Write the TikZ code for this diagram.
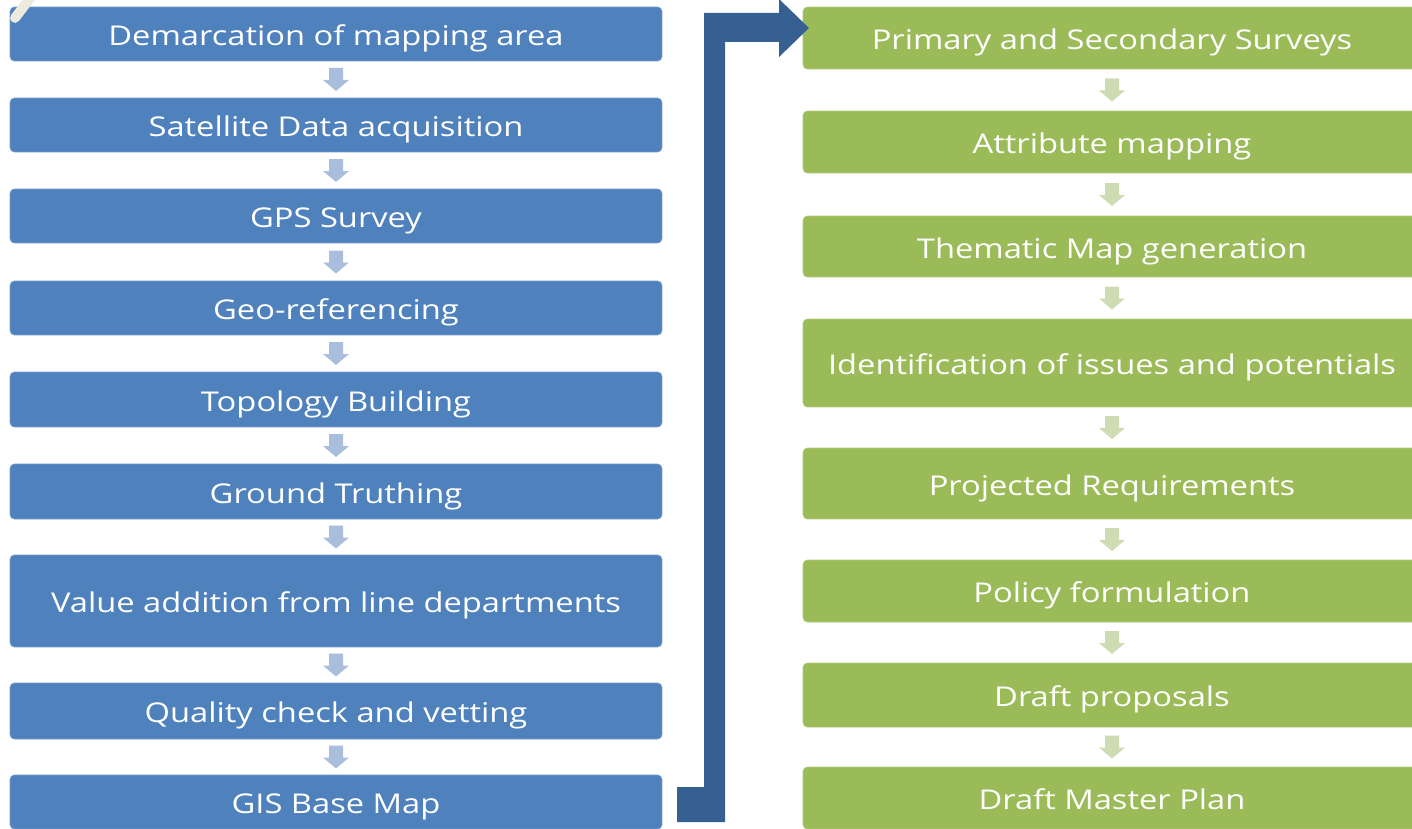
\documentclass[tikz,border=0pt]{standalone}
\usepackage{fontspec}
\setmainfont{Open Sans}[FakeStretch=1.2]
\usetikzlibrary{calc}
\definecolor{boxblue}{HTML}{4F81BD}
\definecolor{boxgreen}{HTML}{9BBB59}
\definecolor{arrblue}{HTML}{A9BEDC}
\definecolor{arrgreen}{HTML}{CDDCB2}
\definecolor{bigarr}{HTML}{376092}
\definecolor{markbeige}{HTML}{EDEAE0}
\tikzset{
  stepblue/.style={fill=boxblue, draw=boxblue!80!white, rounded corners=2.5pt,
    minimum width=13.04cm, text=white, text height=13.6pt, text depth=0pt,
    font=\fontsize{15.5}{18}\selectfont},
  stepgreen/.style={fill=boxgreen, draw=boxgreen!80!white, rounded corners=2.5pt,
    minimum width=12.36cm, text=white, text height=13.6pt, text depth=0pt,
    font=\fontsize{15.5}{18}\selectfont},
  dnarrow/.pic={\fill[#1] (-7,-11.5) -- (7,-11.5) -- (7,0.5) -- (13,0.5) -- (0,11.5) -- (-13,0.5) -- (-7,0.5) -- cycle;}
}
\begin{document}
\begin{tikzpicture}[x=0.02cm,y=-0.02cm]
	\clip (0,0) rectangle (1412,828);
	% Columna izquierda
		\node[stepblue, minimum height=1.08cm] (l1) at (336,34) {Demarcation of mapping area};
		\node[stepblue, minimum height=1.08cm] (l2) at (336,125) {Satellite Data acquisition};
		\node[stepblue, minimum height=1.08cm] (l3) at (336,216) {GPS Survey};
		\node[stepblue, minimum height=1.08cm] (l4) at (336,308) {Geo-referencing};
		\node[stepblue, minimum height=1.10cm] (l5) at (336,399.5) {Topology Building};
		\node[stepblue, minimum height=1.10cm] (l6) at (336,491.5) {Ground Truthing};
		\node[stepblue, minimum height=1.84cm] (l7) at (336,601) {Value addition from line departments};
		\node[stepblue, minimum height=1.12cm] (l8) at (336,711) {Quality check and vetting};
		\node[stepblue, minimum height=1.08cm] (l9) at (336,802) {GIS Base Map};
	% Columna derecha
		\node[stepgreen, minimum height=1.24cm] (r1) at (1112,38) {Primary and Secondary Surveys};
		\node[stepgreen, minimum height=1.24cm] (r2) at (1112,142) {Attribute mapping};
		\node[stepgreen, minimum height=1.22cm] (r3) at (1112,246.5) {Thematic Map generation};
		\node[stepgreen, minimum height=1.76cm] (r4) at (1112,363) {Identification of issues and potentials};
		\node[stepgreen, minimum height=1.42cm] (r5) at (1112,483.5) {Projected Requirements};
		\node[stepgreen, minimum height=1.24cm] (r6) at (1112,591) {Policy formulation};
		\node[stepgreen, minimum height=1.28cm] (r7) at (1112,695) {Draft proposals};
		\node[stepgreen, minimum height=1.24cm] (r8) at (1112,798) {Draft Master Plan};
	% Flechas pequeñas
		\foreach \a/\b in {l1/l2,l2/l3,l3/l4,l4/l5,l5/l6,l6/l7,l7/l8,l8/l9}
			\path ($(\a.south)!0.5!(\b.north)$) pic {dnarrow=arrblue};
		\foreach \a/\b in {r1/r2,r2/r3,r3/r4,r4/r5,r5/r6,r6/r7,r7/r8}
			\path ($(\a.south)!0.5!(\b.north)$) pic {dnarrow=arrgreen};
	% Flecha grande
		\fill[bigarr] (677,822) -- (725,822) -- (725,42) -- (779,42) -- (779,57) -- (809,28)
			-- (779,-1) -- (779,13) -- (704,13) -- (704,787) -- (677,787) -- cycle;
	% Marca
		\draw[markbeige, line width=5.6pt, line cap=round] (15,18) -- (31,-3);
\end{tikzpicture}
\end{document}
